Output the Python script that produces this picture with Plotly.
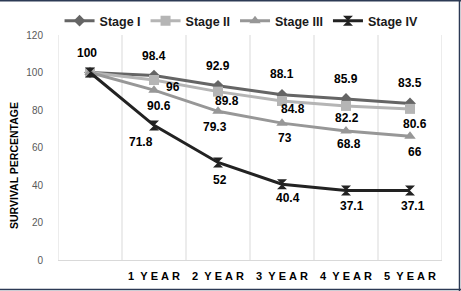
import plotly.graph_objects as go

categories = ["", "1 YEAR", "2 YEAR", "3 YEAR", "4 YEAR", "5 YEAR"]
series_names = ["Stage I", "Stage II", "Stage III", "Stage IV"]
stage1 = [100, 98.4, 92.9, 88.1, 85.9, 83.5]
stage2 = [100, 96, 89.8, 84.8, 82.2, 80.6]
stage3 = [100, 90.6, 79.3, 73, 68.8, 66]
stage4 = [100, 71.8, 52, 40.4, 37.1, 37.1]
y_ticks = [0, 20, 40, 60, 80, 100, 120]
y_title = "SURVIVAL PERCENTAGE"

values = [stage1, stage2, stage3, stage4]
colors = ["#656565", "#b5b5b5", "#979797", "#222222"]
symbols = ["diamond", "square", "triangle-up", "hourglass"]
msizes = [9, 10, 10, 10]

# label offsets (px) per series/point; None = no label
label_offsets = [
    [(-3, 20), (0, 20), (0, 20), (0, 21), (0, 20), (0, 20)],
    [None, (19, -7), (9, -9), (11, -8), (1, -12), (5, -15)],
    [None, (5, -16), (-3, -16), (3, -15), (3, -13), (5, -16)],
    [None, (-13, -17), (2, -17), (6, -14), (6, -16), (3, -16)],
]

NB = "\u00a0"


def spaced(lbl):
    if not lbl:
        return lbl
    num, word = lbl.split(" ")
    return num + NB + NB + NB.join(word)


tick_text = [spaced(c) for c in categories]
xpos = list(range(len(categories)))

L, R, T, B = 58, 19, 35, 31
W, H = 461, 291
pw, ph = W - L - R, H - T - B
def px(x):
    return (x - L) / pw
def py(y):
    return (H - B - y) / ph

fig = go.Figure()
annotations = []
for name, vals, col, sym, ms, offs in zip(series_names, values, colors, symbols, msizes, label_offsets):
    fig.add_trace(go.Scatter(
        x=xpos, y=vals, name=name, mode="lines+markers",
        line=dict(color=col, width=3),
        marker=dict(symbol=sym, size=ms, color=col, line=dict(width=0)),
    ))
    for xi, v, off in zip(xpos, vals, offs):
        if off is None:
            continue
        annotations.append(dict(
            x=xi, y=v, xref="x", yref="y", text=f"{v:g}", showarrow=False,
            xshift=off[0], yshift=off[1],
            font=dict(family="Liberation Sans", size=12, color="#000000", weight="bold"),
        ))

annotations.append(dict(
    x=px(14), y=py(166), xref="paper", yref="paper", text=y_title, showarrow=False,
    textangle=-90, xanchor="center", yanchor="middle",
    font=dict(family="Liberation Sans", size=10.5, color="#000000", weight="bold"),
))

grid_col = "#d9d9d9"
shapes = []
# vertical gridlines at category boundaries
for i in range(len(categories) + 1):
    shapes.append(dict(type="line", xref="x", yref="paper", x0=i - 0.5, x1=i - 0.5, y0=0, y1=1,
                       line=dict(color=grid_col, width=1), layer="below"))
border_col = "#2c3a55"
shapes += [
    dict(type="line", xref="paper", yref="paper", x0=px(0), x1=px(461), y0=py(0.75), y1=py(0.75),
         line=dict(color=border_col, width=1.5)),
    dict(type="line", xref="paper", yref="paper", x0=px(459.5), x1=px(459.5), y0=py(0), y1=py(291),
         line=dict(color=border_col, width=1.5)),
    dict(type="line", xref="paper", yref="paper", x0=px(0), x1=px(461), y0=py(289.5), y1=py(289.5),
         line=dict(color=border_col, width=1.5)),
]

fig.update_layout(
    width=W, height=H,
    margin=dict(l=L, r=R, t=T, b=B, autoexpand=False),
    paper_bgcolor="white", plot_bgcolor="white",
    font=dict(family="Liberation Sans", color="#000000"),
    showlegend=True,
    legend=dict(orientation="h", x=0.478, xanchor="center", y=py(21), yanchor="middle",
                font=dict(size=12.5, color="#1a1a1a", weight="bold"),
                itemwidth=30, tracegroupgap=0, bgcolor="rgba(0,0,0,0)"),
    annotations=annotations,
    shapes=shapes,
    xaxis=dict(
        range=[-0.5, 5.5], tickmode="array", tickvals=xpos, ticktext=tick_text,
        showgrid=False,
        showline=True, linecolor=grid_col, linewidth=1, ticks="",
        tickfont=dict(size=11, color="#000000", weight="bold"),
        ticklabelstandoff=6, zeroline=False, fixedrange=True,
    ),
    yaxis=dict(
        range=[0, 120], tickmode="array", tickvals=y_ticks,
        showgrid=False, zeroline=False, showline=False, ticks="",
        tickfont=dict(size=10, color="#595959"),
        ticklabelstandoff=14,
        fixedrange=True,
    ),
)

fig.write_html("out.html", config={"displayModeBar": False},
               post_script="document.body.style.margin='0';")
